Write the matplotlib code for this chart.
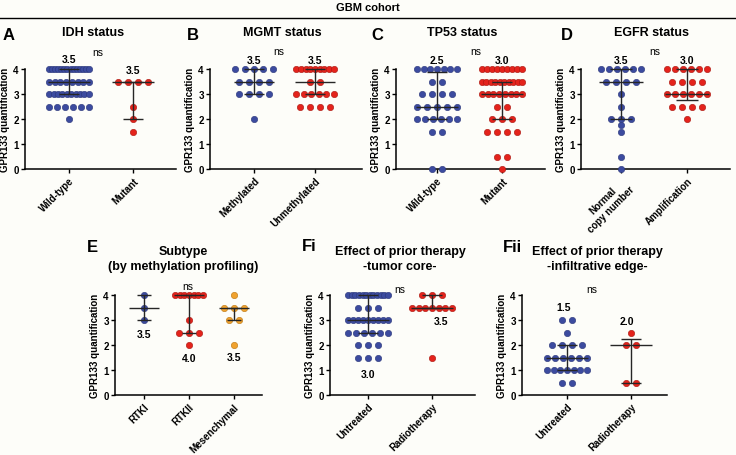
import numpy as np
import matplotlib
matplotlib.use("Agg")
import matplotlib.pyplot as plt
from matplotlib.lines import Line2D

plt.rcParams['font.family'] = ['Liberation Sans', 'DejaVu Sans']

# ---------------- data (score values and number of tumours at each) ----------
idh_wt_vals = [4.0, 3.5, 3.0, 2.5, 2.0]
idh_wt_counts = [14, 8, 10, 6, 1]
idh_mut_vals = [3.5, 2.5, 2.0, 1.5]
idh_mut_counts = [4, 1, 1, 1]

mgmt_meth_vals = [4.0, 3.5, 3.0, 2.0]
mgmt_meth_counts = [5, 4, 4, 1]
mgmt_unmeth_vals = [4.0, 3.5, 3.0, 2.5]
mgmt_unmeth_counts = [9, 2, 6, 4]

tp53_wt_vals = [4.0, 3.5, 3.0, 2.5, 2.0, 1.5, 0.0]
tp53_wt_counts = [7, 2, 4, 5, 6, 2, 2]
tp53_mut_vals = [4.0, 3.5, 3.0, 2.5, 2.0, 1.5, 0.5, 0.0]
tp53_mut_counts = [9, 10, 8, 2, 3, 4, 2, 1]

egfr_norm_vals = [4.0, 3.5, 3.0, 2.5, 2.0, 1.75, 1.5, 0.5, 0.0]
egfr_norm_counts = [6, 4, 1, 1, 3, 1, 1, 1, 1]
egfr_amp_vals = [4.0, 3.5, 3.0, 2.5, 2.0]
egfr_amp_counts = [6, 4, 6, 4, 1]

rtk1_vals = [4.0, 3.5, 3.0]
rtk1_counts = [1, 1, 1]
rtk2_vals = [4.0, 3.0, 2.5, 2.0]
rtk2_counts = [7, 1, 3, 1]
mes_vals = [4.0, 3.5, 3.0, 2.0]
mes_counts = [1, 3, 2, 1]

core_untr_vals = [4.0, 3.5, 3.0, 2.5, 2.0, 1.5]
core_untr_counts = [12, 3, 9, 6, 3, 3]
core_rad_vals = [4.0, 3.5, 1.5]
core_rad_counts = [3, 7, 1]

edge_untr_vals = [3.0, 2.5, 2.0, 1.5, 1.0, 0.5]
edge_untr_counts = [2, 1, 4, 6, 7, 2]
edge_rad_vals = [2.5, 2.0, 0.5]
edge_rad_counts = [1, 2, 2]

# ---------------- style ----------------
W, H = 736, 456
BLUE, BLUE_E = "#3C4B9F", "#2A3678"
RED, RED_E = "#E4231C", "#A8160F"
ORANGE, ORANGE_E = "#F0A22E", "#B87410"
LINE_C = "#262626"
BG = "#FDFDF9"

fig = plt.figure(figsize=(W / 100, H / 100), dpi=100, facecolor=BG)

fig.text(368 / W, 1 - 8 / H, "GBM cohort", ha="center", va="center",
         fontsize=8, fontweight="bold")
fig.add_artist(Line2D([0, 1], [1 - 19 / H, 1 - 19 / H], color="black", lw=1.0))


def q_stats(v):
    return np.percentile(v, [25, 50, 75], method="weibull")


def draw_group(ax, x, vals, counts, color, ecolor, ppu):
    step_max = 10.0 / ppu
    half = 0.31
    xs, ys = [], []
    for v, n in zip(vals, counts):
        if n == 1:
            offs = np.array([0.0])
        else:
            step = min(step_max, 2 * half / (n - 1))
            offs = (np.arange(n) - (n - 1) / 2) * step
        xs.extend(x + offs)
        ys.extend([v] * n)
    ax.scatter(xs, ys, s=21, color=color, edgecolor=ecolor, linewidth=0.4,
               zorder=3, clip_on=False)
    data = np.repeat(vals, counts)
    q1, med, q3 = q_stats(data)
    kw = dict(color=LINE_C, lw=1.0, zorder=4, clip_on=False, solid_capstyle="butt")
    ax.plot([x - 0.33, x + 0.33], [med, med], **kw)
    ax.plot([x - 0.16, x + 0.16], [q1, q1], **kw)
    ax.plot([x - 0.16, x + 0.16], [q3, q3], **kw)
    ax.plot([x, x], [q1, q3], **kw)
    return med


def make_panel(box, cats_px, groups, labels, letter, letter_xy, title, title_xy,
               ns_xy, med_label_y, med_label_dx=None):
    left, right, top, bottom = box
    ax = fig.add_axes([left / W, 1 - bottom / H, (right - left) / W, (bottom - top) / H])
    ax.set_facecolor("none")
    n = len(cats_px)
    ppu = (cats_px[-1] - cats_px[0]) / (n - 1)
    ax.set_xlim((left - cats_px[0]) / ppu, (right - cats_px[0]) / ppu)
    ax.set_ylim(0, 4)
    for sp in ["top", "right"]:
        ax.spines[sp].set_visible(False)
    for sp in ["left", "bottom"]:
        ax.spines[sp].set_linewidth(1.1)
    ax.set_yticks([0, 1, 2, 3, 4])
    ax.set_yticklabels(["0", "1", "2", "3", "4"], fontsize=7, fontweight="bold")
    ax.set_xticks(range(n))
    ax.set_xticklabels(labels, rotation=45, ha="right", rotation_mode="anchor",
                       fontsize=7, fontweight="bold", multialignment="center")
    ax.tick_params(axis="both", length=3, width=1.0, pad=1.5)
    ax.set_ylabel("GPR133 quantification", fontsize=7, fontweight="bold", labelpad=2)
    for i, (vals, counts, c, ec) in enumerate(groups):
        med = draw_group(ax, i, vals, counts, c, ec, ppu)
        dx = 0 if med_label_dx is None else med_label_dx[i]
        ax.text(i + dx / ppu, med_label_y[i], f"{med:.1f}", ha="center", va="center",
                fontsize=7.5, fontweight="bold", clip_on=False)
    ax.text((ns_xy[0] - cats_px[0]) / ppu, 4 * (bottom - ns_xy[1]) / (bottom - top), "ns",
            ha="center", va="center", fontsize=7.5, clip_on=False)
    fig.text(letter_xy[0] / W, 1 - letter_xy[1] / H, letter, ha="left", va="center",
             fontsize=12, fontweight="bold")
    for k, line in enumerate(title):
        fig.text(title_xy[0] / W, 1 - (title_xy[1] + 15 * k) / H, line, ha="center",
                 va="center", fontsize=9, fontweight="bold")
    return ax


make_panel((25, 176, 70, 170), [69, 133],
           [(idh_wt_vals, idh_wt_counts, BLUE, BLUE_E), (idh_mut_vals, idh_mut_counts, RED, RED_E)],
           ["Wild-type", "Mutant"], "A", (3, 35), ["IDH status"], (93, 33),
           (98, 53), [4.4, 3.96])

make_panel((210, 362, 70, 170), [254, 315],
           [(mgmt_meth_vals, mgmt_meth_counts, BLUE, BLUE_E),
            (mgmt_unmeth_vals, mgmt_unmeth_counts, RED, RED_E)],
           ["Methylated", "Unmethylated"], "B", (187, 35), ["MGMT status"], (282, 33),
           (279, 52), [4.36, 4.36])

make_panel((396, 545, 70, 170), [437, 502],
           [(tp53_wt_vals, tp53_wt_counts, BLUE, BLUE_E),
            (tp53_mut_vals, tp53_mut_counts, RED, RED_E)],
           ["Wild-type", "Mutant"], "C", (371, 35), ["TP53 status"], (462, 33),
           (476, 52), [4.36, 4.36])

make_panel((581, 730, 70, 170), [621, 687],
           [(egfr_norm_vals, egfr_norm_counts, BLUE, BLUE_E),
            (egfr_amp_vals, egfr_amp_counts, RED, RED_E)],
           ["Normal\ncopy number", "Amplification"], "D", (561, 35), ["EGFR status"], (652, 33),
           (655, 52), [4.36, 4.36])

make_panel((115, 262, 296, 396), [144, 189, 234],
           [(rtk1_vals, rtk1_counts, BLUE, BLUE_E),
            (rtk2_vals, rtk2_counts, RED, RED_E),
            (mes_vals, mes_counts, ORANGE, ORANGE_E)],
           ["RTKI", "RTKII", "Mesenchymal"], "E", (87, 248),
           ["Subtype", "(by methylation profiling)"], (183, 252),
           (188, 287), [2.44, 1.48, 1.52])

make_panel((330, 475, 296, 396), [368, 432],
           [(core_untr_vals, core_untr_counts, BLUE, BLUE_E),
            (core_rad_vals, core_rad_counts, RED, RED_E)],
           ["Untreated", "Radiotherapy"], "Fi", (302, 247),
           ["Effect of prior therapy", "-tumor core-"], (400, 252),
           (400, 290), [0.84, 2.96], med_label_dx=[0, 9])

make_panel((522, 667, 296, 396), [567, 631],
           [(edge_untr_vals, edge_untr_counts, BLUE, BLUE_E),
            (edge_rad_vals, edge_rad_counts, RED, RED_E)],
           ["Untreated", "Radiotherapy"], "Fii", (503, 248),
           ["Effect of prior therapy", "-infiltrative edge-"], (597, 252),
           (592, 290), [3.52, 2.96], med_label_dx=[-3, -4])

fig.savefig("out.png", dpi=100, facecolor=BG)
